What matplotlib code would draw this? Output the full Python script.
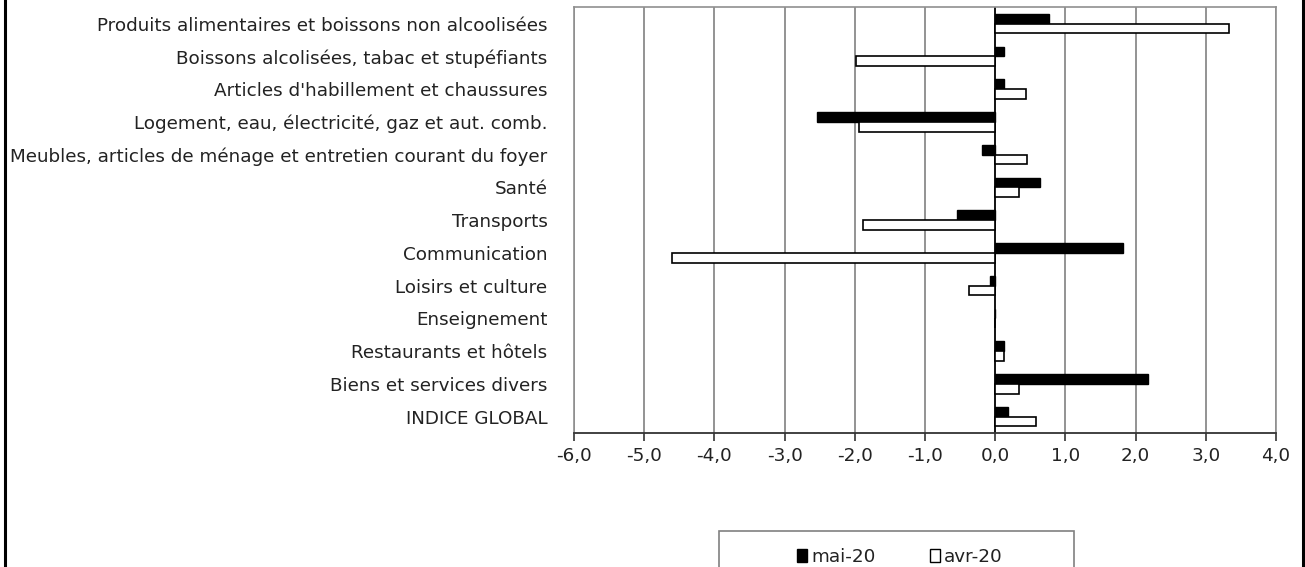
import numpy as np
import matplotlib.pyplot as plt
from matplotlib.patches import Patch, Rectangle
from matplotlib.lines import Line2D

plt.rcParams['font.family'] = ['DejaVu Sans']

categories = [
    "Produits alimentaires et boissons non alcoolisées",
    "Boissons alcolisées, tabac et stupéfiants",
    "Articles d'habillement et chaussures",
    "Logement, eau, électricité, gaz et aut. comb.",
    "Meubles, articles de ménage et entretien courant du foyer",
    "Santé",
    "Transports",
    "Communication",
    "Loisirs et culture",
    "Enseignement",
    "Restaurants et hôtels",
    "Biens et services divers",
    "INDICE GLOBAL",
]
mai_20 = [0.77, 0.13, 0.12, -2.54, -0.19, 0.64, -0.55, 1.82, -0.08, 0.0, 0.12, 2.18, 0.18]
avr_20 = [3.33, -1.98, 0.44, -1.94, 0.46, 0.34, -1.89, -4.61, -0.38, 0.0, 0.12, 0.34, 0.58]
xticks = np.arange(-6, 5, 1)

fs = 13.2

fig = plt.figure(figsize=(13.05, 5.67), dpi=100)
ax = fig.add_axes([574/1305, 1-433/567, (1276-574)/1305, (433-7.3)/567])

y = np.arange(len(categories))
h = 0.3
ax.barh(y - h/2, mai_20, height=h, color='black', edgecolor='black', linewidth=1.0, zorder=3)
ax.barh(y + h/2, avr_20, height=h, color='white', edgecolor='black', linewidth=1.2, zorder=3)

ax.set_xlim(-6, 4)
ax.set_ylim(len(categories) - 0.5, -0.5)
ax.set_xticks(xticks)
ax.set_xticklabels([f"{v:.1f}".replace('.', ',') for v in xticks], fontsize=fs, color='#222222')
ax.set_yticks(y)
ax.set_yticklabels(categories, fontsize=fs, color='#222222')
ax.tick_params(axis='y', length=0, pad=19)
ax.tick_params(axis='x', direction='out', length=6, width=1.2, color='#333333', pad=4)

ax.grid(axis='x', color='#808080', linewidth=1.2, zorder=0)
ax.axvline(0, color='black', linewidth=1.2, zorder=2)
for s in ['top', 'right', 'left']:
    ax.spines[s].set_color('#909090')
    ax.spines[s].set_linewidth(1.2)
ax.spines['bottom'].set_color('#333333')
ax.spines['bottom'].set_linewidth(1.3)

# legend box, cut off by the bottom edge like the original
lx0, lx1, ly_top = 719/1305, 1074/1305, 1-531/567
fig.patches.append(Rectangle((lx0, -0.2), lx1 - lx0, ly_top + 0.2, transform=fig.transFigure,
                             facecolor='white', edgecolor='#808080', linewidth=1.2))
handles = [Patch(facecolor='black', edgecolor='black', label='mai-20'),
           Patch(facecolor='white', edgecolor='black', label='avr-20')]
fig.legend(handles=handles, loc='center', bbox_to_anchor=(900/1305, 1-557/567), ncol=2,
           frameon=False, fontsize=fs, handlelength=0.55, handleheight=0.75,
           handletextpad=0.2, columnspacing=3.0, labelcolor='#222222')

# outer frame lines left and right
fig.add_artist(Line2D([4.5/1305, 4.5/1305], [0, 1], transform=fig.transFigure, color='black', linewidth=2.2))
fig.add_artist(Line2D([1302.5/1305, 1302.5/1305], [0, 1], transform=fig.transFigure, color='black', linewidth=2.2))

fig.savefig('out.png', dpi=100, facecolor='white')
